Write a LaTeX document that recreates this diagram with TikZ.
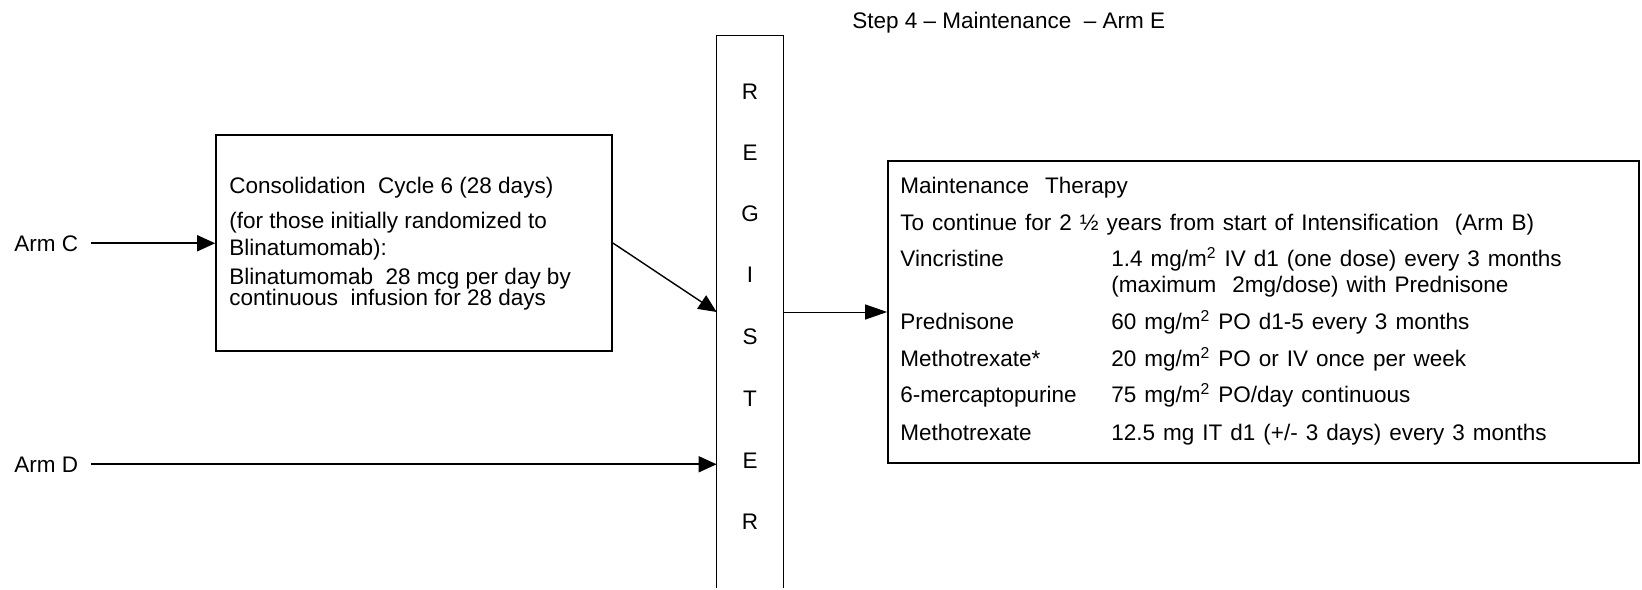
\documentclass[tikz,border=0pt]{standalone}
\usepackage{fontspec}
\setmainfont{Liberation Sans}
\usetikzlibrary{arrows.meta}
\begin{document}
\begin{tikzpicture}[x=0.5pt,y=-0.5pt,
  every node/.style={font=\fontsize{11.25}{13}\selectfont},
  txt/.style={anchor=base west, inner sep=0pt},
  mtxt/.style={anchor=base west, inner sep=0pt, execute at begin node={\spaceskip=4pt\relax}},
  boxshape/.style={draw, line width=0.85pt, inner sep=0pt},
  arr/.style={-{Triangle[length=9pt,width=8pt]}, line width=0.9pt},
  thinarr/.style={-{Triangle[length=11pt,width=7.5pt]}, line width=0.5pt},
  letter/.style={inner sep=0pt, anchor=center}]
\useasboundingbox (0,0) rectangle (1642,589);

% title
\node[txt] (title) at (852,28) {Step 4 – Maintenance\ \ – Arm E};

% arm labels
\node[txt] (armC) at (14,251) {Arm C};
\node[txt] (armD) at (14,472) {Arm D};

% consolidation box
\node[boxshape, minimum width=198pt, minimum height=108pt] (cons) at (414,243) {};
\node[txt] (c1) at (229,193) {Consolidation\ \ Cycle 6 (28 days)};
\node[txt] (c2) at (229,228) {(for those initially randomized to};
\node[txt] (c3) at (229,255) {Blinatumomab):};
\node[txt] (c4) at (229,284) {Blinatumomab\ \ 28 mcg per day by};
\node[txt] (c5) at (229,305) {continuous\ \ infusion for 28 days};

% register column
\node[inner sep=0pt, minimum width=33pt, minimum height=276pt] (reg) at (750,312) {};
\draw[line width=0.85pt] (reg.south west) -- (reg.north west) -- (reg.north east) -- (reg.south east);
\node[letter] (r1) at (750,92)  {R};
\node[letter] (r2) at (750,153) {E};
\node[letter] (r3) at (750,214) {G};
\node[letter] (r4) at (750,275) {I};
\node[letter] (r5) at (750,337) {S};
\node[letter] (r6) at (750,399) {T};
\node[letter] (r7) at (750,461) {E};
\node[letter] (r8) at (750,522) {R};

% maintenance box
\node[boxshape, minimum width=375.5pt, minimum height=151pt] (maint) at (1263.5,312) {};
\node[mtxt] (m1) at (900,193) {Maintenance\ \ Therapy};
\node[mtxt] (m2) at (900,230) {To continue for 2 ½ years from start of Intensification\ \ (Arm B)};
\node[mtxt] (m3a) at (900,266) {Vincristine};
\node[mtxt] (m3b) at (1111,266) {1.4 mg/m\textsuperscript{2} IV d1 (one dose) every 3 months};
\node[mtxt] (m3c) at (1111,292) {(maximum\ \ 2mg/dose) with Prednisone};
\node[mtxt] (m4a) at (900,329) {Prednisone};
\node[mtxt] (m4b) at (1111,329) {60 mg/m\textsuperscript{2} PO d1-5 every 3 months};
\node[mtxt] (m5a) at (900,366) {Methotrexate*};
\node[mtxt] (m5b) at (1111,366) {20 mg/m\textsuperscript{2} PO or IV once per week};
\node[mtxt] (m6a) at (900,402) {6-mercaptopurine};
\node[mtxt] (m6b) at (1111,402) {75 mg/m\textsuperscript{2} PO/day continuous};
\node[mtxt] (m7a) at (900,440) {Methotrexate};
\node[mtxt] (m7b) at (1111,440) {12.5 mg IT d1 (+/- 3 days) every 3 months};

% connectors
\draw[arr] ([xshift=6pt]armC.east) -- (cons.west |- armC.east);
\draw[arr] ([xshift=6pt]armD.east) -- (reg.west |- armD.east);
\draw[arr, line width=0.7pt] (cons.east) -- (reg.west);
\draw[thinarr] (reg.east) -- (maint.west);
\end{tikzpicture}
\end{document}
